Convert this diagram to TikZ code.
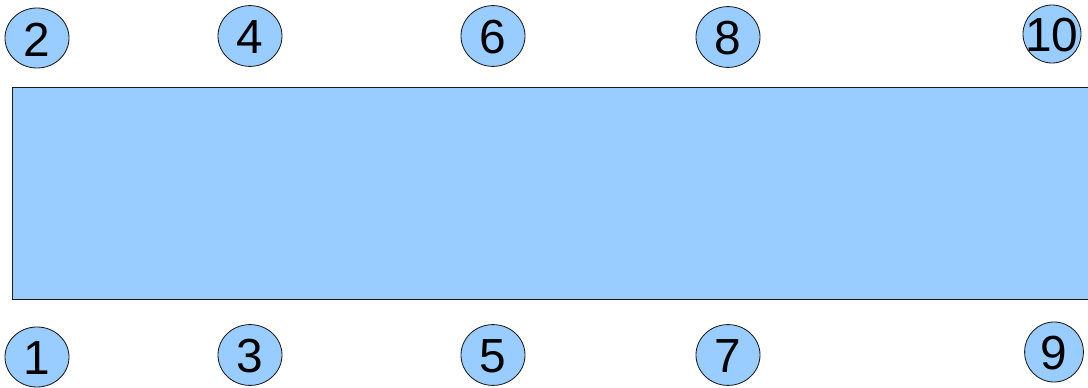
\documentclass[tikz,border=0pt]{standalone}
\usepackage{fontspec}
\setmainfont{Liberation Sans}
\usepackage{tikz}
\usetikzlibrary{shapes.geometric}
\definecolor{pinFill}{HTML}{99CCFF}
\definecolor{pinLine}{HTML}{1A1A1A}
\tikzset{
  pindisc/.style={ellipse, draw=pinLine, fill=pinFill, line width=0.6pt, inner sep=0pt},
  pintext/.style={font=\fontsize{34}{34}\selectfont, text=black, inner sep=0pt, yshift=-1pt},
  bodyrect/.style={draw=pinLine, fill=pinFill, line width=0.6pt}
}
% pin disc: x, y, name, label, width, height
\newcommand{\pnode}[6]{%
 \node[pindisc, minimum width=#5, minimum height=#6] (#3) at (#1,#2) {};%
 \node[pintext] (#3t) at (#3) {#4};}

\begin{document}
\begin{tikzpicture}[x=0.025cm, y=-0.025cm]
\clip (0,0) rectangle (1088,388);
\path[bodyrect] (12,87) rectangle (1100,299);
\pnode{37}{38}{p2}{2}{1.6cm}{1.5cm}
\pnode{250}{36}{p4}{4}{1.6cm}{1.52cm}
\pnode{493}{36}{p6}{6}{1.6cm}{1.52cm}
\pnode{728}{37}{p8}{8}{1.6cm}{1.52cm}
\pnode{1052}{34}{p10}{10}{1.45cm}{1.45cm}
\pnode{37}{357}{p1}{1}{1.6cm}{1.5cm}
\pnode{250}{355}{p3}{3}{1.6cm}{1.52cm}
\pnode{493}{355}{p5}{5}{1.6cm}{1.52cm}
\pnode{728}{355}{p7}{7}{1.6cm}{1.52cm}
\pnode{1054}{352}{p9}{9}{1.47cm}{1.5cm}
\end{tikzpicture}
\end{document}
